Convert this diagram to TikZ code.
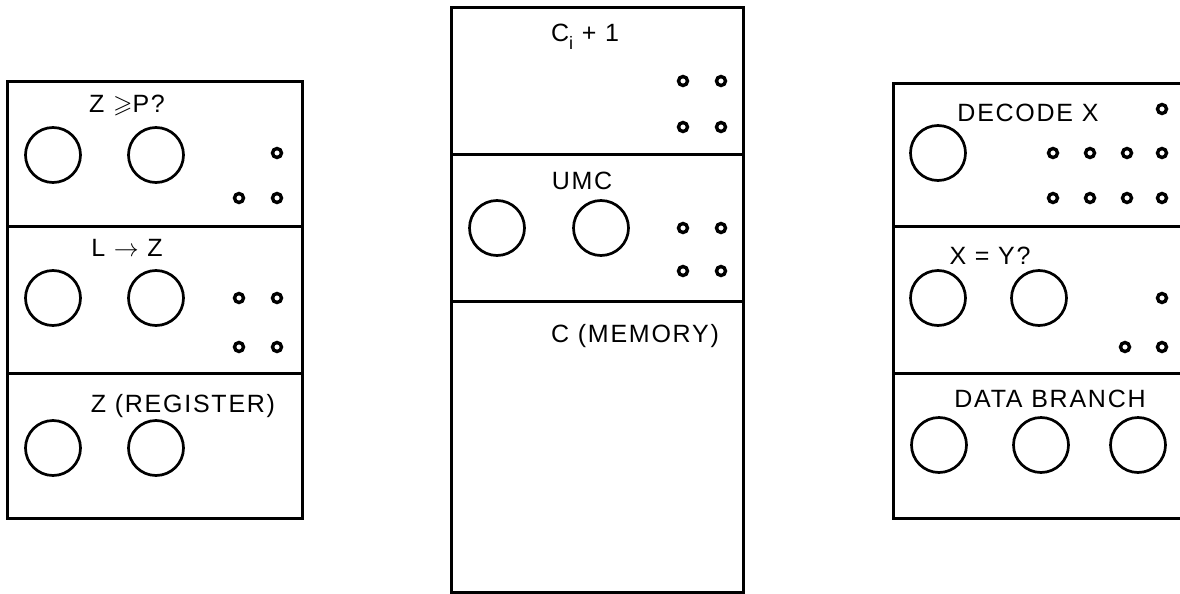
\documentclass[tikz,border=0pt]{standalone}
\usepackage{amssymb}
\usepackage{fontspec}
\setmainfont{Liberation Sans}[LetterSpace=7]
\usepackage{tikz}

\begin{document}
\begin{tikzpicture}[
  x=1pt, y=-1pt,
  panel/.style={rectangle, draw, line width=3pt, anchor=north west, inner sep=0pt, outer sep=0pt},
  lamp/.style={circle, draw, line width=2.7pt, minimum size=55pt, inner sep=0pt},
  dot/.style={circle, draw, line width=3.4pt, minimum size=9pt, inner sep=0pt},
  heading/.style={font=\fontsize{25}{28}\selectfont, inner sep=0pt, text height=18pt, text depth=0pt},
]
  \clip (0,0) rectangle (1180,594);

  % Bloc gauche
  \node[panel, minimum width=295pt, minimum height=145pt] (cmp) at (7,81) {};
  \node[panel, minimum width=295pt, minimum height=147pt] (load) at (7,226) {};
  \node[panel, minimum width=295pt, minimum height=145pt] (zreg) at (7,373) {};

  \node[heading] (cmptxt) at (127,103) {Z $\geqslant$P?};
  \node[lamp] (cmp1) at (53,155) {};
  \node[lamp] (cmp2) at (156,155) {};
  \node[dot] (cmpd1) at (277,153) {};
  \node[dot] (cmpd2) at (239,198) {};
  \node[dot] (cmpd3) at (277,198) {};

  \node[heading] (loadtxt) at (127,247) {L $\rightarrow$ Z};
  \node[lamp] (load1) at (53,298) {};
  \node[lamp] (load2) at (156,298) {};
  \node[dot] (loadd1) at (239,298) {};
  \node[dot] (loadd2) at (277,298) {};
  \node[dot] (loadd3) at (239,347) {};
  \node[dot] (loadd4) at (277,347) {};

  \node[heading] (zregtxt) at (183,403) {Z (REGISTER)};
  \node[lamp] (zreg1) at (53,448) {};
  \node[lamp] (zreg2) at (156,448) {};

  % Bloc central
  \node[panel, minimum width=292pt, minimum height=146pt] (cinc) at (451,8) {};
  \node[panel, minimum width=292pt, minimum height=147pt] (umc) at (451,154) {};
  \node[panel, minimum width=292pt, minimum height=291pt] (cmem) at (451,301) {};

  \node[heading] (cinctxt) at (585,33) {C\raisebox{-8pt}{\fontsize{18}{20}\selectfont i} + 1};
  \node[dot] (cincd1) at (683,81) {};
  \node[dot] (cincd2) at (721,81) {};
  \node[dot] (cincd3) at (683,127) {};
  \node[dot] (cincd4) at (721,127) {};

  \node[heading] (umctxt) at (582,180) {UMC};
  \node[lamp] (umc1) at (497,228) {};
  \node[lamp] (umc2) at (601,228) {};
  \node[dot] (umcd1) at (683,228) {};
  \node[dot] (umcd2) at (721,228) {};
  \node[dot] (umcd3) at (683,271) {};
  \node[dot] (umcd4) at (721,271) {};

  \node[heading] (cmemtxt) at (635,333) {C (MEMORY)};

  % Bloc droit
  \node[panel, minimum width=310pt, minimum height=143pt] (dec) at (893,83) {};
  \node[panel, minimum width=310pt, minimum height=147pt] (xeqy) at (893,226) {};
  \node[panel, minimum width=310pt, minimum height=145pt] (dbr) at (893,373) {};

  \node[heading] (dectxt) at (1028,112) {DECODE X};
  \node[lamp] (dec1) at (938,153) {};
  \node[dot] (decd0) at (1162,109) {};
  \node[dot] (decd1) at (1053,153) {};
  \node[dot] (decd2) at (1090,153) {};
  \node[dot] (decd3) at (1127,153) {};
  \node[dot] (decd4) at (1162,153) {};
  \node[dot] (decd5) at (1053,198) {};
  \node[dot] (decd6) at (1090,198) {};
  \node[dot] (decd7) at (1127,198) {};
  \node[dot] (decd8) at (1162,198) {};

  \node[heading] (xeqytxt) at (990,255) {X = Y?};
  \node[lamp] (xeqy1) at (938,298) {};
  \node[lamp] (xeqy2) at (1039,298) {};
  \node[dot] (xeqyd1) at (1162,298) {};
  \node[dot] (xeqyd2) at (1125,347) {};
  \node[dot] (xeqyd3) at (1162,347) {};

  \node[heading] (dbrtxt) at (1050,398) {DATA BRANCH};
  \node[lamp] (dbr1) at (939,445) {};
  \node[lamp] (dbr2) at (1041,445) {};
  \node[lamp] (dbr3) at (1138,445) {};
\end{tikzpicture}
\end{document}
